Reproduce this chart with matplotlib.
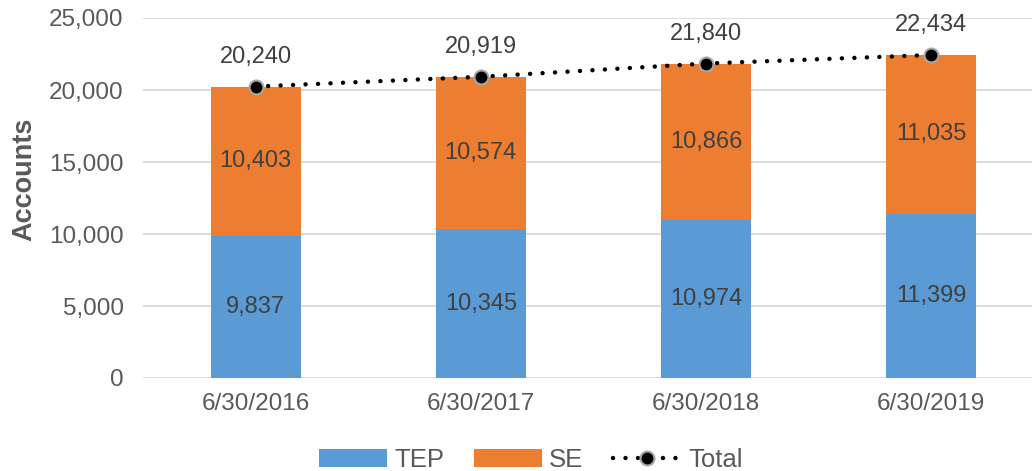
import numpy as np
import matplotlib.pyplot as plt

plt.rcParams['font.family'] = ['Liberation Sans', 'DejaVu Sans']

dates = ["6/30/2016", "6/30/2017", "6/30/2018", "6/30/2019"]
tep = [9837, 10345, 10974, 11399]
se = [10403, 10574, 10866, 11035]
total = [20240, 20919, 21840, 22434]

blue = "#5B9BD5"
orange = "#ED7D31"
txt = "#404040"
tick_col = "#595959"

fig = plt.figure(figsize=(10.32, 4.71), dpi=100)
ax = fig.add_axes([143 / 1032, 93 / 471, 901 / 1032, 360 / 471])

x = np.arange(len(dates))
b1 = ax.bar(x, tep, width=0.4, color=blue, label="TEP", zorder=2)
b2 = ax.bar(x, se, width=0.4, bottom=tep, color=orange, label="SE", zorder=2)

# labels inside the stacked segments
for i in range(len(x)):
    ax.text(x[i], tep[i] / 2, f"{tep[i]:,}", ha="center", va="center",
            fontsize=17, color=txt, zorder=4)
    ax.text(x[i], tep[i] + se[i] / 2, f"{se[i]:,}", ha="center", va="center",
            fontsize=17, color=txt, zorder=4)

ln, = ax.plot(x, total, color="black", lw=3.2, linestyle=(0, (0.01, 2.8)),
              dash_capstyle="round", marker="o", markersize=10,
              markerfacecolor="black", markeredgecolor="#A6A6A6",
              markeredgewidth=1.5, label="Total", zorder=3)

for i in range(len(x)):
    ax.annotate(f"{total[i]:,}", (x[i], total[i]), xytext=(0, 24),
                textcoords="offset pixels", ha="center", va="baseline",
                fontsize=17, color=txt)

ax.set_xlim(-0.5, 3.5)
ax.set_ylim(0, 25000)
ax.set_yticks(np.arange(0, 25001, 5000))
ax.set_yticklabels([f"{v:,}" for v in range(0, 25001, 5000)])
ax.set_xticks(x)
ax.set_xticklabels(dates)
ax.tick_params(axis="both", length=0, labelsize=17.5, labelcolor=tick_col)
ax.tick_params(axis="x", pad=11)
ax.tick_params(axis="y", pad=14)
ax.yaxis.grid(True, color="#D9D9D9", lw=1.3, zorder=0)
ax.set_axisbelow(True)
for s in ax.spines.values():
    s.set_visible(False)

ax.set_ylabel("Accounts", fontsize=19.5, fontweight="bold", color=tick_col)
ax.yaxis.set_label_coords(-106 / 901, 0.553)

fig.legend(handles=[b1, b2, ln], loc="center", bbox_to_anchor=(531 / 1032, 11 / 471),
           ncol=3, frameon=False, fontsize=18.5, handlelength=2.65,
           handletextpad=0.27, columnspacing=1.17, labelcolor=tick_col)

fig.savefig("out.png", dpi=100)
